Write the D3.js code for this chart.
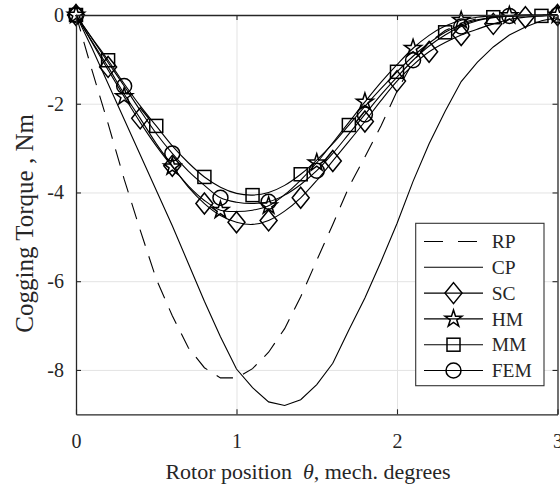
<!DOCTYPE html>
<html>
<head>
<meta charset="utf-8">
<script src="https://cdn.jsdelivr.net/npm/d3@7"></script>
<style>
  body { margin: 0; background: #fff; }
  text { font-family: "Liberation Serif", "Times New Roman", serif; fill: #262626; }
</style>
</head>
<body>
<svg id="chart" width="560" height="491"></svg>
<script>
// Rotor position, mech. degrees
const theta = [0, 0.1, 0.2, 0.3, 0.4, 0.5, 0.6, 0.7, 0.8, 0.9, 1.0,
               1.1, 1.2, 1.3, 1.4, 1.5, 1.6, 1.7, 1.8, 1.9, 2.0,
               2.1, 2.2, 2.3, 2.4, 2.5, 2.6, 2.7, 2.8, 2.9, 3.0];

// Cogging torque, Nm
const rp  = [0, -1.25, -2.45, -3.7, -4.85, -5.95, -6.78, -7.5, -7.95, -8.18, -8.18,
             -7.97, -7.6, -7.07, -6.35, -5.53, -4.72, -3.88, -3.2, -2.5, -1.72,
             -1.05, -0.62, -0.35, -0.18, -0.08, -0.03, -0.01, 0, 0, 0];
const cp  = [0, -0.75, -1.55, -2.35, -3.15, -3.95, -4.75, -5.6, -6.45, -7.25, -7.98,
             -8.4, -8.72, -8.8, -8.67, -8.33, -7.85, -7.1, -6.38, -5.56, -4.7,
             -3.75, -2.9, -2.17, -1.5, -1.07, -0.72, -0.45, -0.27, -0.13, -0.06];
const sc  = [0, -0.6, -1.17, -1.78, -2.33, -2.9, -3.4, -3.88, -4.25, -4.52, -4.67,
             -4.72, -4.63, -4.42, -4.12, -3.73, -3.29, -2.85, -2.4, -1.93, -1.49,
             -1.13, -0.83, -0.62, -0.45, -0.32, -0.2, -0.1, -0.05, -0.02, 0];
const hm  = [0, -0.62, -1.24, -1.84, -2.42, -2.95, -3.42, -3.85, -4.18, -4.4, -4.43,
             -4.4, -4.3, -4.05, -3.72, -3.33, -2.88, -2.42, -1.96, -1.52, -1.12,
             -0.75, -0.46, -0.25, -0.12, -0.05, -0.02, -0.01, 0, 0, 0];
const mm  = [0, -0.52, -1.02, -1.55, -2.05, -2.5, -2.95, -3.33, -3.65, -3.88, -4.02,
             -4.06, -4.0, -3.84, -3.59, -3.27, -2.9, -2.48, -2.06, -1.66, -1.28,
             -0.93, -0.63, -0.39, -0.22, -0.11, -0.05, -0.03, -0.02, -0.02, 0];
const fem = [0, -0.53, -1.07, -1.6, -2.15, -2.67, -3.12, -3.52, -3.84, -4.12, -4.22,
             -4.25, -4.21, -4.06, -3.82, -3.51, -3.12, -2.68, -2.24, -1.8, -1.4,
             -1.02, -0.7, -0.45, -0.26, -0.13, -0.06, -0.02, -0.01, 0, 0];

// Which samples carry a marker
const scMarks  = [0, 2, 4, 6, 8, 10, 12, 14, 16, 18, 20, 22, 24, 26, 28, 30];
const hmMarks  = [0, 3, 6, 9, 12, 15, 18, 21, 24, 27, 30];
const mmMarks  = [0, 2, 5, 8, 11, 14, 17, 20, 23, 26, 29];
const femMarks = [0, 3, 6, 9, 12, 15, 18, 21, 24, 27, 30];

const legendLabels = ["RP", "CP", "SC", "HM", "MM", "FEM"];
const xTicks = [0, 1, 2, 3];
const yTicks = [0, -2, -4, -6, -8];
const xTickLabels = ["0", "1", "2", "3"];
const yTickLabels = ["0", "-2", "-4", "-6", "-8"];

const svg = d3.select("#chart");
const plotLeft = 76, plotRight = 557.5, plotTop = 15, plotBottom = 414.3;

const x = d3.scaleLinear().domain([0, 3]).range([plotLeft, plotRight]);
const y = d3.scaleLinear().domain([-9, 0]).range([plotBottom, plotTop]);

const axisColor = "#262626";

// Grid
svg.append("g")
  .attr("transform", `translate(0,${plotBottom})`)
  .call(d3.axisBottom(x).tickValues([1, 2]).tickSize(-(plotBottom - plotTop)).tickFormat(""))
  .call(g => g.select(".domain").remove())
  .call(g => g.selectAll("line").attr("stroke", "#e3e3e3").attr("stroke-width", 1));
svg.append("g")
  .attr("transform", `translate(${plotLeft},0)`)
  .call(d3.axisLeft(y).tickValues([-2, -4, -6, -8]).tickSize(-(plotRight - plotLeft)).tickFormat(""))
  .call(g => g.select(".domain").remove())
  .call(g => g.selectAll("line").attr("stroke", "#e3e3e3").attr("stroke-width", 1));

// Marker shapes
const marker = {
  diamond: g => g.append("path").attr("d", "M0,-10.5L8.5,0L0,10.5L-8.5,0Z"),
  star: g => g.append("path").attr("d", d3.symbol(d3.symbolStar, 90)()),
  square: g => g.append("rect").attr("x", -6.5).attr("y", -6.5).attr("width", 13).attr("height", 13),
  circle: g => g.append("circle").attr("r", 7.5)
};

const series = [
  { name: legendLabels[0], values: rp,  dash: "17,11", curve: d3.curveLinear, shape: null, marks: [] },
  { name: legendLabels[1], values: cp,  dash: null, curve: d3.curveLinear, shape: null, marks: [] },
  { name: legendLabels[2], values: sc,  dash: null, curve: d3.curveCatmullRom, shape: "diamond", marks: scMarks },
  { name: legendLabels[3], values: hm,  dash: null, curve: d3.curveCatmullRom, shape: "star", marks: hmMarks },
  { name: legendLabels[4], values: mm,  dash: null, curve: d3.curveCatmullRom, shape: "square", marks: mmMarks },
  { name: legendLabels[5], values: fem, dash: null, curve: d3.curveCatmullRom, shape: "circle", marks: femMarks }
];

const plot = svg.append("g");
series.forEach(s => {
  const line = d3.line().x((d, i) => x(theta[i])).y(d => y(d)).curve(s.curve);
  plot.append("path")
    .attr("d", line(s.values))
    .attr("fill", "none")
    .attr("stroke", "#000")
    .attr("stroke-width", 1.1)
    .attr("stroke-dasharray", s.dash);
});
series.forEach(s => {
  if (!s.shape) return;
  s.marks.forEach(i => {
    const g = plot.append("g")
      .attr("transform", `translate(${x(theta[i])},${y(s.values[i])})`);
    marker[s.shape](g).attr("fill", "none").attr("stroke", "#000").attr("stroke-width", 1.5);
  });
});

// Axes: labelled bottom/left, bare top/right, ticks pointing inward
const xAxis = svg.append("g")
  .attr("transform", `translate(0,${plotBottom})`)
  .call(d3.axisBottom(x).tickValues(xTicks).tickSizeInner(-5).tickSizeOuter(0)
    .tickPadding(20).tickFormat((d, i) => xTickLabels[i]));
const yAxis = svg.append("g")
  .attr("transform", `translate(${plotLeft},0)`)
  .call(d3.axisLeft(y).tickValues(yTicks).tickSizeInner(-5).tickSizeOuter(0)
    .tickPadding(12).tickFormat((d, i) => yTickLabels[i]));
const xTop = svg.append("g")
  .attr("transform", `translate(0,${plotTop})`)
  .call(d3.axisTop(x).tickValues(xTicks).tickSizeInner(-5).tickSizeOuter(0).tickFormat(""));
const yRight = svg.append("g")
  .attr("transform", `translate(${plotRight},0)`)
  .call(d3.axisRight(y).tickValues(yTicks).tickSizeInner(-5).tickSizeOuter(0).tickFormat(""));

[xAxis, yAxis, xTop, yRight].forEach(a => {
  a.select(".domain").attr("stroke", axisColor).attr("stroke-width", 1.3);
  a.selectAll(".tick line").attr("stroke", axisColor).attr("stroke-width", 1.1);
  a.selectAll(".tick text")
    .attr("fill", axisColor)
    .style("font-family", "'Liberation Serif', serif")
    .style("font-size", "20px");
});

// Axis titles
const xTitle = svg.append("text")
  .attr("x", 308).attr("y", 479)
  .attr("text-anchor", "middle")
  .style("font-size", "22px")
  .style("white-space", "pre");
xTitle.append("tspan").text("Rotor position  ");
xTitle.append("tspan").style("font-style", "italic").text("θ");
xTitle.append("tspan").text(", mech. degrees");

svg.append("text")
  .attr("transform", "translate(33,223.4) rotate(-90)")
  .attr("text-anchor", "middle")
  .style("font-size", "25px")
  .style("white-space", "pre")
  .text("Cogging Torque , Nm");

// Legend
const lg = svg.append("g");
lg.append("rect")
  .attr("x", 415.7).attr("y", 223.3)
  .attr("width", 128.3).attr("height", 162.4)
  .attr("fill", "#fff").attr("stroke", "#333").attr("stroke-width", 1.1);
series.forEach((s, k) => {
  const cy = 241.5 + k * 25.8;
  lg.append("line")
    .attr("x1", 424).attr("x2", 483).attr("y1", cy).attr("y2", cy)
    .attr("stroke", "#000").attr("stroke-width", 1.1)
    .attr("stroke-dasharray", s.dash ? "19,15" : null);
  if (s.shape) {
    const g = lg.append("g").attr("transform", `translate(453.5,${cy})`);
    marker[s.shape](g).attr("fill", "none").attr("stroke", "#000").attr("stroke-width", 1.5);
  }
  lg.append("text")
    .attr("x", 491.7).attr("y", cy + 6.6)
    .style("font-size", "19.5px")
    .text(s.name);
});
</script>
</body>
</html>
